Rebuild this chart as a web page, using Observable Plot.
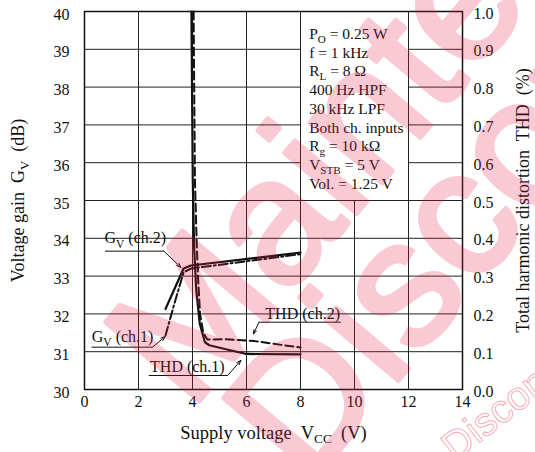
<!DOCTYPE html>
<html><head><meta charset="utf-8">
<script src="https://cdn.jsdelivr.net/npm/d3@7"></script>
<script src="https://cdn.jsdelivr.net/npm/@observablehq/plot@0.6"></script>
<style>
html,body{margin:0;padding:0;background:#fff;}
#wrap{position:relative;width:535px;height:452px;overflow:hidden;background:#fff;}
#wrap svg text{white-space:pre;}
#wm{position:absolute;left:0;top:0;pointer-events:none;}
</style></head><body>
<div id="wrap"></div>
<script>
// ---- data ----
const vccGvCh2 = [3.0, 3.67, 3.94, 8.0];
const gvCh2    = [32.13, 33.2, 33.28, 33.62];
const vccGvCh1 = [3.0, 3.3, 3.67, 3.94, 8.0];
const gvCh1    = [31.43, 32.2, 33.1, 33.2, 33.58];
const vccThdCh1 = [3.96, 4.01, 4.06, 4.14, 4.27, 4.46, 4.62, 5.2, 6.0, 8.0];
const thdCh1    = [1.0, 0.553, 0.376, 0.262, 0.174, 0.125, 0.117, 0.107, 0.094, 0.093];
const vccThdCh2 = [4.04, 4.09, 4.16, 4.21, 4.28, 4.4, 4.55, 5.2, 6.3, 7.5, 8.0];
const thdCh2    = [1.0, 0.553, 0.376, 0.29, 0.2, 0.15, 0.132, 0.133, 0.128, 0.116, 0.111];

const xTicks   = [0, 2, 4, 6, 8, 10, 12, 14];
const gvTicks  = [30, 31, 32, 33, 34, 35, 36, 37, 38, 39, 40];
const thdTicks = ["0.0","0.1","0.2","0.3","0.4","0.5","0.6","0.7","0.8","0.9","1.0"];

const conditions = ["P_{O} = 0.25 W", "f = 1 kHz", "R_{L} = 8 Ω", "400 Hz HPF", "30 kHz LPF",
                    "Both ch. inputs", "R_{g} = 10 kΩ", "V_{STB} = 5 V", "Vol. = 1.25 V"];

const annLabels = ["G_{V} (ch.2)", "G_{V} (ch.1)", "THD (ch.1)", "THD (ch.2)"];
const annX   = [1.88, 1.41, 3.81, 8.08];
const annY   = [34.0, 31.4, 30.59, 32.0];
const ulX1   = [0.76, 0.26, 2.38, 6.46];
const ulX2   = [2.94, 2.52, 5.30, 9.49];
const ulY    = [33.66, 31.12, 30.37, 31.78];
const arX1   = [2.94, 2.52, 5.30, 6.46];
const arY1   = [33.66, 31.12, 30.37, 31.78];
const arX2   = [3.57, 2.99, 5.79, 6.26];
const arY2   = [33.23, 31.40, 30.77, 31.47];

const xLabel = "Supply voltage  V_{CC}  (V)";
const yLabel = "Voltage gain  G_{V}  (dB)";
const y2Label = "Total harmonic distortion  THD  (%)";

// ---- layout ----
const boxX1 = 8, boxX2 = 12, boxYBottom = 35;
const thdToGv = t => 30 + t * 10;   // right axis: THD 0..1 maps onto 30..40 dB
const INK = "#111";

const rowsGv2 = vccGvCh2.map((v, i) => ({x: v, y: gvCh2[i]}));
const rowsGv1 = vccGvCh1.map((v, i) => ({x: v, y: gvCh1[i]}));
const rowsThd1 = vccThdCh1.map((v, i) => ({x: v, y: thdToGv(thdCh1[i])}));
const rowsThd2 = vccThdCh2.map((v, i) => ({x: v, y: thdToGv(thdCh2[i])}));
const ann = annLabels.map((t, i) => ({t, x: annX[i], y: annY[i], ux1: ulX1[i], ux2: ulX2[i], uy: ulY[i],
                                      ax1: arX1[i], ay1: arY1[i], ax2: arX2[i], ay2: arY2[i]}));

const fullV = xTicks.filter(d => d > 0 && d < 14 && d !== 10);
const partV = [10];
const fullH = gvTicks.filter(d => d > 30 && d <= boxYBottom);
const partH = gvTicks.filter(d => d > boxYBottom && d < 40);

const chart = Plot.plot({
  width: 535, height: 452,
  marginLeft: 84, marginRight: 73, marginTop: 11, marginBottom: 63,
  x: {domain: [0, 14]},
  y: {domain: [30, 40]},
  style: {fontFamily: "'Liberation Serif', 'Times New Roman', serif", fontSize: "16px", color: INK, background: "white", overflow: "visible"},
  marks: [
    Plot.ruleX(fullV, {stroke: "#222", strokeWidth: 1}),
    Plot.ruleX(partV, {y1: 30, y2: boxYBottom, stroke: "#222", strokeWidth: 1}),
    Plot.ruleY(fullH, {stroke: "#222", strokeWidth: 1}),
    Plot.ruleY(partH, {x1: 0, x2: boxX1, stroke: "#222", strokeWidth: 1}),
    Plot.ruleY(partH, {x1: boxX2, x2: 14, stroke: "#222", strokeWidth: 1}),
    Plot.text(ann, {x: "x", y: "y", text: "t", fontSize: 16, fill: INK, ariaLabel: "annot"}),
    Plot.link(ann, {x1: "ux1", x2: "ux2", y1: "uy", y2: "uy", stroke: INK, strokeWidth: 1}),
    Plot.arrow(ann, {x1: "ax1", y1: "ay1", x2: "ax2", y2: "ay2", stroke: INK, strokeWidth: 1, headLength: 7, headAngle: 40}),
    Plot.line(rowsThd1, {x: "x", y: "y", stroke: INK, strokeWidth: 2.2}),
    Plot.line(rowsThd2, {x: "x", y: "y", stroke: INK, strokeWidth: 2, strokeDasharray: "8,4"}),
    Plot.line(rowsGv1, {x: "x", y: "y", stroke: INK, strokeWidth: 2, strokeDasharray: "9,3,2,3"}),
    Plot.line(rowsGv2, {x: "x", y: "y", stroke: INK, strokeWidth: 2.2}),
    Plot.text([conditions.join("\n")], {x: 8.32, y: 39.63, text: d => d, textAnchor: "start", lineAnchor: "top",
                                        lineHeight: 1.21, fontSize: 15.5, fill: INK}),
    Plot.axisX({ticks: xTicks, tickSize: 0, tickPadding: 6, label: null, fontSize: 16}),
    Plot.axisY({anchor: "left", ticks: gvTicks, tickSize: 0, tickPadding: 15, dy: 3, label: null, fontSize: 16}),
    Plot.axisY({anchor: "right", ticks: gvTicks, tickFormat: d => thdTicks[gvTicks.indexOf(d)], tickSize: 0,
                tickPadding: 11, dy: 2, label: null, fontSize: 16}),
    Plot.text([xLabel], {frameAnchor: "bottom", text: d => d, textAnchor: "middle", dy: 49, fontSize: 18.5, fill: INK}),
    Plot.text([yLabel], {frameAnchor: "left", text: d => d, textAnchor: "middle", rotate: -90, dx: -66, fontSize: 18, fill: INK}),
    Plot.text([y2Label], {frameAnchor: "right", text: d => d, textAnchor: "middle", rotate: -90, dx: 61, fontSize: 18, fill: INK}),
    Plot.frame({stroke: INK, strokeWidth: 1.5})
  ]
});

const wrap = document.getElementById("wrap");
wrap.appendChild(chart);

// subscripts: "_{..}" -> lowered smaller tspan
const NS = "http://www.w3.org/2000/svg";
function applySubs(root) {
  const walker = document.createTreeWalker(root, NodeFilter.SHOW_TEXT);
  const nodes = [];
  while (walker.nextNode()) if (/_\{/.test(walker.currentNode.data)) nodes.push(walker.currentNode);
  for (const n of nodes) {
    const parent = n.parentNode;
    const fs = parseFloat(getComputedStyle(parent).fontSize) || 16;
    const shift = (fs * 0.26).toFixed(2);
    const parts = n.data.split(/(_\{[^}]*\})/);
    const frag = document.createDocumentFragment();
    let pending = false;
    for (const p of parts) {
      if (!p) continue;
      const m = p.match(/^_\{([^}]*)\}$/);
      if (m) {
        const t = document.createElementNS(NS, "tspan");
        t.setAttribute("dy", shift);
        t.style.fontSize = (fs * 0.72).toFixed(2) + "px";
        t.textContent = m[1];
        frag.appendChild(t); pending = true;
      } else if (pending) {
        const t = document.createElementNS(NS, "tspan");
        t.setAttribute("dy", "-" + shift);
        t.textContent = p;
        frag.appendChild(t); pending = false;
      } else frag.appendChild(document.createTextNode(p));
    }
    if (pending) {
      const t = document.createElementNS(NS, "tspan");
      t.setAttribute("dy", "-" + shift); t.textContent = "\u200B"; frag.appendChild(t);
    }
    parent.replaceChild(frag, n);
  }
}
applySubs(chart);

// white boxes behind annotation labels (they interrupt the grid, as in the reference)
chart.querySelectorAll('g[aria-label="annot"] text').forEach(t => {
  const b = t.getBBox();
  const r = document.createElementNS(NS, "rect");
  r.setAttribute("x", b.x - 5); r.setAttribute("y", b.y);
  r.setAttribute("width", b.width + 10); r.setAttribute("height", b.height);
  r.setAttribute("fill", "white");
  if (t.getAttribute("transform")) r.setAttribute("transform", t.getAttribute("transform"));
  t.parentNode.insertBefore(r, t);
});

// watermark overlay
const wm = document.createElementNS(NS, "svg");
wm.setAttribute("id", "wm"); wm.setAttribute("width", 535); wm.setAttribute("height", 452);
wm.innerHTML = `
<g font-family="'Liberation Sans', Arial, sans-serif" fill="rgb(232,30,70)" stroke="rgb(232,30,70)"
   stroke-width="5" stroke-linejoin="round" opacity="0.23">
  <text transform="translate(190,412) rotate(-50)" font-size="178">Maintenance</text>
  <text transform="translate(308,488) rotate(-50)" font-size="178">Discontinued</text>
</g>
<text transform="translate(455,462) rotate(-38)" font-family="'Liberation Sans', Arial, sans-serif" font-size="40"
  fill="none" stroke="rgb(232,30,70)" stroke-opacity="0.4" stroke-width="1">Discontinued</text>`;
wrap.appendChild(wm);
</script>
</body></html>
